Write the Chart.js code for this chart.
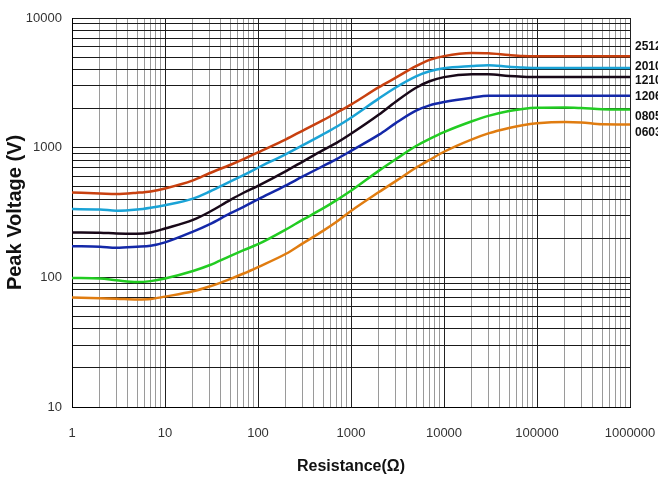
<!DOCTYPE html>
<html>
<head>
<meta charset="utf-8">
<script src="https://cdn.jsdelivr.net/npm/chart.js@4/dist/chart.umd.min.js"></script>
<style>
 html, body { margin: 0; padding: 0; background: #ffffff; }
 #wrap { width: 658px; height: 479px; }
</style>
</head>
<body>
<div id="wrap"><canvas id="idCourbe" width="658" height="479"></canvas></div>
<script>
/* Resistance (ohm) */
 var resistance = [1,2,3,5,7,10,20,30,50,70,100,200,300,500,700,1000,2000,3000,5000,7000,
                   10000,20000,30000,50000,70000,100000,200000,300000,500000,1000000];
/* Peak voltage (V), one list per size */
 var v2512 = [452,444,439,449,460,485,560,635,735,815,920,1160,1350,1630,1860,2150,2930,3450,4250,4750,
              5080,5370,5340,5180,5100,5080,5080,5080,5080,5080];
 var v2010 = [336,334,326,333,344,360,405,457,546,615,700,893,1040,1266,1450,1700,2400,2900,3550,3880,
              4100,4260,4330,4200,4150,4110,4110,4110,4110,4110];
 var v1210 = [222,221,218,217,222,238,277,319,394,449,508,660,778,958,1090,1280,1800,2250,2900,3250,
              3500,3675,3675,3570,3530,3510,3510,3510,3510,3510];
 var v1206 = [174,172,169,172,175,186,225,256,311,350,399,512,597,721,817,945,1260,1540,1930,2120,
              2250,2430,2510,2510,2510,2510,2510,2510,2510,2510];
 var v0805 = [99,98,95,92,93.5,98,112,124,146,162,180,234,277,340,394,465,665,810,1030,1170,
              1320,1600,1760,1920,1990,2030,2040,2020,1980,1970];
 var v0603 = [70,69,68.5,67.5,68,71,78,85,97,107,120,152,182,228,268,325,455,550,700,805,
              930,1160,1290,1420,1490,1540,1575,1565,1515,1510];
 var sizes  = ["2512","2010","1210","1206","0805","0603"];
 var series = [v2512, v2010, v1210, v1206, v0805, v0603];
 var colors = ["#c8400f","#1aa3d6","#180818","#1428a8","#22cc22","#e07c10"];
 var labelShift = [-9, -1, 4, 1, 7, 8];                      /* decalage du texte par rapport a la courbe */

 function Log_ticks ( min, max )
  { var ticks = [];
    for (var d=min; d<max; d*=10)
     { for (var s=1; s<10; s++) ticks.push( { value: s*d, major: (s==1) } ); }
    ticks.push( { value: max, major: true } );
    return(ticks);
  }
 function Is_decade ( v ) { var l = Math.log10(v); return( Math.abs(l-Math.round(l))<1e-9 ); }

 var endLabels =
  { id: "endLabels",
    afterDatasetsDraw: function (chart)
     { var ctx = chart.ctx;
       ctx.save();
       ctx.font = "bold 12px 'Liberation Sans', Arial, sans-serif";
       ctx.fillStyle = "#111";
       ctx.textBaseline = "middle";
       ctx.textAlign = "left";
       chart.data.datasets.forEach( function (ds, i)
        { var meta = chart.getDatasetMeta(i);
          var pt = meta.data[meta.data.length-1];
          ctx.fillText( ds.label, chart.chartArea.right+5, pt.y + labelShift[i] );
        });
       ctx.restore();
     }
  };

 Chart.defaults.font.family = "'Liberation Sans', Arial, sans-serif";
 Chart.defaults.color = "#333";

 var datasets = [];
 for (var i=0; i<series.length; i++)
  { datasets.push ( { label: sizes[i],
                      data: series[i],
                      borderColor: colors[i],
                      backgroundColor: colors[i],
                      borderWidth: 2.5,
                      pointRadius: 0,
                      cubicInterpolationMode: "monotone",
                      fill: false
                    } );
  }

 new Chart( document.getElementById("idCourbe"),
  { type: "line",
    data: { labels: resistance, datasets: datasets },
    plugins: [ endLabels ],
    options: { responsive: false, animation: false,
               layout: { padding: { left: 0, right: 28, top: 18, bottom: 0 } },
               plugins: { legend: { display: false }, tooltip: { enabled: false } },
               scales:
                { x: { type: "logarithmic", min: 1, max: 1000000,
                       afterBuildTicks: function (scale) { scale.ticks = Log_ticks(1, 1000000); },
                       afterFit: function (scale) { scale.height = 72; scale.paddingLeft = 0; scale.paddingRight = 0; },
                       ticks: { autoSkip: false, maxRotation: 0, padding: 19, font: { size: 13 }, color: "#333",
                                callback: function (v) { return( Is_decade(v) ? String(v) : "" ); } },
                       grid: { drawTicks: false, lineWidth: 1,
                               color: function (c) { return( c.tick && c.tick.major ? "#222" : "#9a9a9a" ); } },
                       border: { color: "#000", width: 1 },
                       title: { display: true, text: "Resistance(Ω)", color: "#111",
                                font: { size: 16, weight: "bold" }, padding: { top: 0, bottom: 3 } }
                     },
                  y: { type: "logarithmic", min: 10, max: 10000,
                       afterBuildTicks: function (scale) { scale.ticks = Log_ticks(10, 10000); },
                       afterFit: function (scale) { scale.width = 72; },
                       ticks: { autoSkip: false, padding: 10, font: { size: 13 }, color: "#333",
                                callback: function (v) { return( Is_decade(v) ? String(v) : "" ); } },
                       grid: { drawTicks: false, lineWidth: 1, color: "#1a1a1a" },
                       border: { color: "#000", width: 1 },
                       title: { display: true, text: "Peak Voltage (V)", color: "#111",
                                font: { size: 20, weight: "bold" }, padding: { top: 3, bottom: 0 } }
                     }
                }
             }
  });
</script>
</body>
</html>
